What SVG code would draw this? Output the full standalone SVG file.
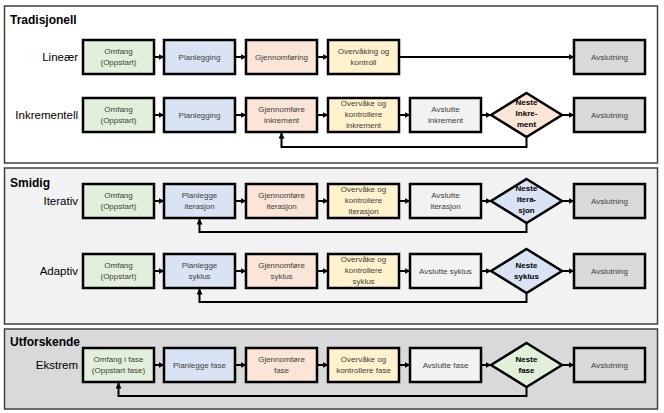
<svg xmlns="http://www.w3.org/2000/svg" width="664" height="413" viewBox="0 0 664 413">
<style>
.panel{stroke:#404040;stroke-width:1.5}
.box{stroke:#000;stroke-width:2.5}
.g{fill:#e2efda}.b{fill:#dae3f3}.o{fill:#fbe5d6}.y{fill:#fff2cc}.l{fill:#f2f2f2}.d{fill:#d9d9d9}
.t{font-family:"Liberation Sans",Arial,sans-serif;font-size:8px;fill:#404040;text-anchor:middle}
.dt{font-family:"Liberation Sans",Arial,sans-serif;font-size:8px;font-weight:bold;fill:#000;text-anchor:middle}
.h{font-family:"Liberation Sans",Arial,sans-serif;font-size:12px;font-weight:bold;fill:#000}
.r{font-family:"Liberation Sans",Arial,sans-serif;font-size:11.5px;fill:#000;text-anchor:end}
.c{fill:none;stroke:#000;stroke-width:2}
</style>
<defs>
<marker id="a" markerWidth="6" markerHeight="6" refX="5.5" refY="3" orient="auto" markerUnits="userSpaceOnUse"><path d="M0,0 L6,3 L0,6 z" fill="#000"/></marker>
</defs>
<rect width="664" height="413" fill="#fff"/>
<g id="panels">
<rect class="panel" x="4.5" y="6" width="653" height="157" fill="#fff"/>
<rect class="panel" x="4.5" y="168" width="653" height="156" fill="#f2f2f2"/>
<rect class="panel" x="4.5" y="329" width="653" height="80" fill="#d9d9d9"/>
<text class="h" x="10" y="24">Tradisjonell</text>
<text class="h" x="10" y="187">Smidig</text>
<text class="h" x="10" y="346">Utforskende</text>
<text class="r" x="78" y="61">Lineær</text>
<text class="r" x="78" y="119">Inkrementell</text>
<text class="r" x="78" y="205">Iterativ</text>
<text class="r" x="78" y="275">Adaptiv</text>
<text class="r" x="78" y="369">Ekstrem</text>
</g>
<g id="connectors">
<path class="c" marker-end="url(#a)" d="M154,57 H164"/>
<path class="c" marker-end="url(#a)" d="M235,57 H246"/>
<path class="c" marker-end="url(#a)" d="M317,57 H328"/>
<path class="c" marker-end="url(#a)" d="M399,57 H574"/>
<path class="c" marker-end="url(#a)" d="M154,115 H164"/>
<path class="c" marker-end="url(#a)" d="M235,115 H246"/>
<path class="c" marker-end="url(#a)" d="M317,115 H328"/>
<path class="c" marker-end="url(#a)" d="M399,115 H410"/>
<path class="c" marker-end="url(#a)" d="M481,115 H491"/>
<path class="c" marker-end="url(#a)" d="M562,115 H574"/>
<path class="c" marker-end="url(#a)" d="M526.5,137 V147 H281.5 V133"/>
<path class="c" marker-end="url(#a)" d="M154,201 H164"/>
<path class="c" marker-end="url(#a)" d="M235,201 H246"/>
<path class="c" marker-end="url(#a)" d="M317,201 H328"/>
<path class="c" marker-end="url(#a)" d="M399,201 H410"/>
<path class="c" marker-end="url(#a)" d="M481,201 H491"/>
<path class="c" marker-end="url(#a)" d="M562,201 H574"/>
<path class="c" marker-end="url(#a)" d="M526.5,223 V232 H199.5 V219"/>
<path class="c" marker-end="url(#a)" d="M154,271 H164"/>
<path class="c" marker-end="url(#a)" d="M235,271 H246"/>
<path class="c" marker-end="url(#a)" d="M317,271 H328"/>
<path class="c" marker-end="url(#a)" d="M399,271 H410"/>
<path class="c" marker-end="url(#a)" d="M481,271 H491"/>
<path class="c" marker-end="url(#a)" d="M562,271 H574"/>
<path class="c" marker-end="url(#a)" d="M526.5,293 V302 H199.5 V289"/>
<path class="c" marker-end="url(#a)" d="M154,365 H164"/>
<path class="c" marker-end="url(#a)" d="M235,365 H246"/>
<path class="c" marker-end="url(#a)" d="M317,365 H328"/>
<path class="c" marker-end="url(#a)" d="M399,365 H410"/>
<path class="c" marker-end="url(#a)" d="M481,365 H491"/>
<path class="c" marker-end="url(#a)" d="M562,365 H574"/>
<path class="c" marker-end="url(#a)" d="M526.5,387 V396 H118.5 V383"/>
</g>
<!-- Row 1 -->
<g id="lin-omfang"><rect class="box g" x="83" y="40" width="71" height="34"/><text class="t" x="118.5" y="54">Omfang</text><text class="t" x="118.5" y="65">(Oppstart)</text></g>
<g id="lin-plan"><rect class="box b" x="164" y="40" width="71" height="34"/><text class="t" x="199.5" y="60">Planlegging</text></g>
<g id="lin-gjen"><rect class="box o" x="246" y="40" width="71" height="34"/><text class="t" x="281.5" y="60">Gjennomføring</text></g>
<g id="lin-overv"><rect class="box y" x="328" y="40" width="71" height="34"/><text class="t" x="363.5" y="54">Overvåking og</text><text class="t" x="363.5" y="65">kontroll</text></g>
<g id="lin-avsl"><rect class="box d" x="574" y="40" width="71" height="34"/><text class="t" x="609.5" y="60">Avslutning</text></g>
<!-- Row 2 -->
<g id="ink-omfang"><rect class="box g" x="83" y="98" width="71" height="34"/><text class="t" x="118.5" y="112">Omfang</text><text class="t" x="118.5" y="123">(Oppstart)</text></g>
<g id="ink-plan"><rect class="box b" x="164" y="98" width="71" height="34"/><text class="t" x="199.5" y="118">Planlegging</text></g>
<g id="ink-gjen"><rect class="box o" x="246" y="98" width="71" height="34"/><text class="t" x="281.5" y="112">Gjennomføre</text><text class="t" x="281.5" y="123">inkrement</text></g>
<g id="ink-overv"><rect class="box y" x="328" y="98" width="71" height="34"/><text class="t" x="363.5" y="106">Overvåke og</text><text class="t" x="363.5" y="117">kontrollere</text><text class="t" x="363.5" y="128">inkrement</text></g>
<g id="ink-avslutte"><rect class="box l" x="410" y="98" width="71" height="34"/><text class="t" x="445.5" y="112">Avslutte</text><text class="t" x="445.5" y="123">inkrement</text></g>
<g id="ink-neste"><path class="box o" d="M526.5,93 L562,115 L526.5,137 L491,115 Z"/><text class="dt" x="526.5" y="105">Neste</text><text class="dt" x="526.5" y="116">Inkre-</text><text class="dt" x="526.5" y="127">ment</text></g>
<g id="ink-avsl"><rect class="box d" x="574" y="98" width="71" height="34"/><text class="t" x="609.5" y="118">Avslutning</text></g>
<!-- Row 3 -->
<g id="it-omfang"><rect class="box g" x="83" y="184" width="71" height="34"/><text class="t" x="118.5" y="198">Omfang</text><text class="t" x="118.5" y="209">(Oppstart)</text></g>
<g id="it-plan"><rect class="box b" x="164" y="184" width="71" height="34"/><text class="t" x="199.5" y="198">Planlegge</text><text class="t" x="199.5" y="209">iterasjon</text></g>
<g id="it-gjen"><rect class="box o" x="246" y="184" width="71" height="34"/><text class="t" x="281.5" y="198">Gjennomføre</text><text class="t" x="281.5" y="209">iterasjon</text></g>
<g id="it-overv"><rect class="box y" x="328" y="184" width="71" height="34"/><text class="t" x="363.5" y="192">Overvåke og</text><text class="t" x="363.5" y="203">kontrollere</text><text class="t" x="363.5" y="214">iterasjon</text></g>
<g id="it-avslutte"><rect class="box l" x="410" y="184" width="71" height="34"/><text class="t" x="445.5" y="198">Avslutte</text><text class="t" x="445.5" y="209">iterasjon</text></g>
<g id="it-neste"><path class="box b" d="M526.5,179 L562,201 L526.5,223 L491,201 Z"/><text class="dt" x="526.5" y="191">Neste</text><text class="dt" x="526.5" y="202">itera-</text><text class="dt" x="526.5" y="213">sjon</text></g>
<g id="it-avsl"><rect class="box d" x="574" y="184" width="71" height="34"/><text class="t" x="609.5" y="204">Avslutning</text></g>
<!-- Row 4 -->
<g id="ad-omfang"><rect class="box g" x="83" y="254" width="71" height="34"/><text class="t" x="118.5" y="268">Omfang</text><text class="t" x="118.5" y="279">(Oppstart)</text></g>
<g id="ad-plan"><rect class="box b" x="164" y="254" width="71" height="34"/><text class="t" x="199.5" y="268">Planlegge</text><text class="t" x="199.5" y="279">syklus</text></g>
<g id="ad-gjen"><rect class="box o" x="246" y="254" width="71" height="34"/><text class="t" x="281.5" y="268">Gjennomføre</text><text class="t" x="281.5" y="279">syklus</text></g>
<g id="ad-overv"><rect class="box y" x="328" y="254" width="71" height="34"/><text class="t" x="363.5" y="262">Overvåke og</text><text class="t" x="363.5" y="273">kontrollere</text><text class="t" x="363.5" y="284">syklus</text></g>
<g id="ad-avslutte"><rect class="box l" x="410" y="254" width="71" height="34"/><text class="t" x="445.5" y="274">Avslutte syklus</text></g>
<g id="ad-neste"><path class="box b" d="M526.5,249 L562,271 L526.5,293 L491,271 Z"/><text class="dt" x="526.5" y="268">Neste</text><text class="dt" x="526.5" y="279">syklus</text></g>
<g id="ad-avsl"><rect class="box d" x="574" y="254" width="71" height="34"/><text class="t" x="609.5" y="274">Avslutning</text></g>
<!-- Row 5 -->
<g id="ek-omfang"><rect class="box g" x="83" y="348" width="71" height="34"/><text class="t" x="118.5" y="362">Omfang i fase</text><text class="t" x="118.5" y="373">(Oppstart fase)</text></g>
<g id="ek-plan"><rect class="box b" x="164" y="348" width="71" height="34"/><text class="t" x="199.5" y="368">Planlegge fase</text></g>
<g id="ek-gjen"><rect class="box o" x="246" y="348" width="71" height="34"/><text class="t" x="281.5" y="362">Gjennomføre</text><text class="t" x="281.5" y="373">fase</text></g>
<g id="ek-overv"><rect class="box y" x="328" y="348" width="71" height="34"/><text class="t" x="363.5" y="362">Overvåke og</text><text class="t" x="363.5" y="373">kontrollere fase</text></g>
<g id="ek-avslutte"><rect class="box l" x="410" y="348" width="71" height="34"/><text class="t" x="445.5" y="368">Avslutte fase</text></g>
<g id="ek-neste"><path class="box g" d="M526.5,343 L562,365 L526.5,387 L491,365 Z"/><text class="dt" x="526.5" y="362">Neste</text><text class="dt" x="526.5" y="373">fase</text></g>
<g id="ek-avsl"><rect class="box d" x="574" y="348" width="71" height="34"/><text class="t" x="609.5" y="368">Avslutning</text></g>
</svg>
